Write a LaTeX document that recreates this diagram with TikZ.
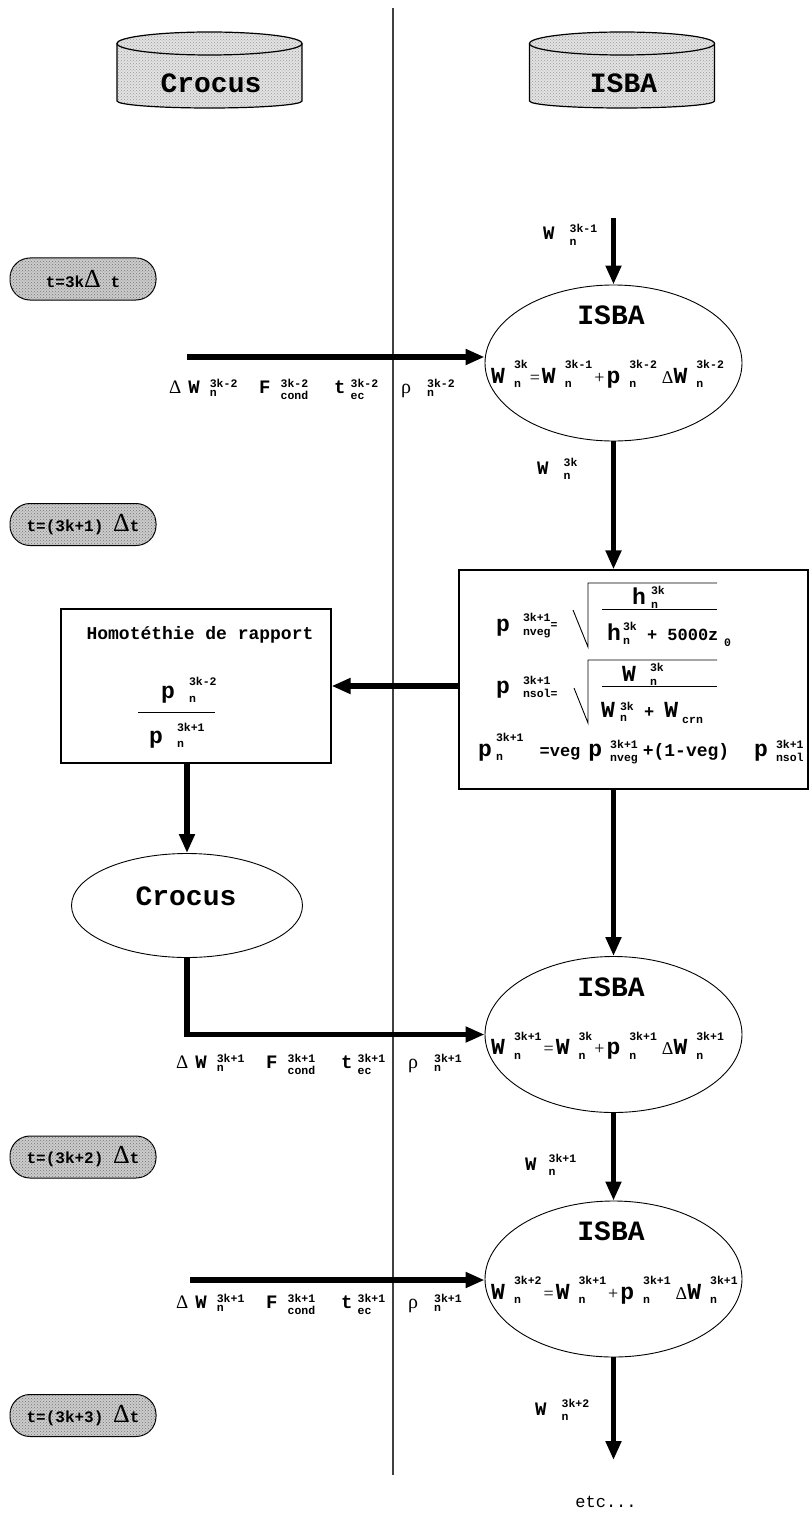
\documentclass[tikz,border=0pt]{standalone}
\usepackage{fontspec}
\setmainfont{Liberation Mono}
\newfontfamily\symf{Liberation Serif}
\usetikzlibrary{shapes, positioning, arrows.meta, patterns}

\newlength{\ixgap}\setlength{\ixgap}{9pt}
\newcommand{\subdn}{-0.2em}
\newcommand{\supf}{\fontsize{11.5}{12}\selectfont\bfseries}
\newcommand{\bigf}{\fontsize{23}{25}\selectfont\bfseries}
\newcommand{\labf}{\fontsize{19}{21}\selectfont\bfseries}
\newcommand{\ttlf}{\fontsize{28}{30}\selectfont\bfseries}
\newcommand{\gr}[2][18]{{\symf\mdseries\fontsize{#1}{#1}\selectfont #2}}
\newcommand{\opf}[1]{\hspace{2pt}\gr{#1}\hspace{2pt}}
\newcommand{\dlt}{\gr[26]{Δ}}
% letter with an upper and a lower index on its right
\newcommand{\ix}[4][0.62em]{#2\hspace{\ixgap}\rlap{\raisebox{\subdn}{\supf #4}}\raisebox{#1}{\supf #3}}

\begin{document}
\begin{tikzpicture}[x=1pt, y=-1pt,
  flow/.style={line width=5.5pt, -{Triangle[length=19pt, width=15pt]}},
  thinl/.style={line width=0.9pt},
  boxl/.style={draw, line width=1.2pt},
  pill/.style={draw, line width=1pt, rounded corners=20pt, minimum width=146pt, minimum height=42pt,
    fill=gray!40, postaction={pattern=crosshatch dots, pattern color=black!55}},
  dbfill/.style={fill=gray!22, postaction={pattern=crosshatch dots, pattern color=gray!80}},
  eq/.style={inner sep=0pt, anchor=base west, font=\bigf},
  lab/.style={inner sep=0pt, anchor=base west, font={\labf\setlength{\ixgap}{10pt}}},
  wlab/.style={inner sep=0pt, anchor=base west, font={\labf\setlength{\ixgap}{15pt}\def\subdn{-0.3em}}},
  ttl/.style={inner sep=0pt, anchor=base, font=\ttlf}]

\useasboundingbox (0,0) rectangle (809,1514);

% separator
\coordinate (sepT) at (393,8);
\coordinate (sepB) at (393,1475);
\draw[line width=1.1pt, black!75] (sepT) -- (sepB);

% data bases
\foreach \cx/\nm/\tx in {209.5/dbC/Crocus, 622/dbI/ISBA}{
  \path[dbfill] (\cx-92.5,43.5) -- (\cx-92.5,101) arc[start angle=180, end angle=360, x radius=92.5pt, y radius=7pt]
     -- (\cx+92.5,43.5) arc[start angle=0, end angle=180, x radius=92.5pt, y radius=11.5pt] -- cycle;
  \draw[line width=1.2pt] (\cx-92.5,43.5) -- (\cx-92.5,101) arc[start angle=180, end angle=360, x radius=92.5pt, y radius=7pt] -- (\cx+92.5,43.5);
  \draw[line width=1.2pt] (\cx,43.5) ellipse[x radius=92.5pt, y radius=11.5pt];
  \node[ttl] (\nm) at (\cx+1.5,92.5) {\tx};
}

% time steps
\foreach \nm/\yy/\tx in {tA/279/{t=3k\dlt\ t}, tB/524.5/{t=(3k+1) \dlt t}, tC/1157/{t=(3k+2) \dlt t}, tD/1415.5/{t=(3k+3) \dlt t}}
  \node[pill, font=\fontsize{16}{18}\selectfont\bfseries] (\nm) at (83,\yy) {\tx};

% ISBA steps
\foreach \nm/\yy/\a/\b/\c in {isbaA/363/3k/3k-1/3k-2, isbaB/1034.5/3k+1/3k/3k+1, isbaC/1279/3k+2/3k+1/3k+1}{
  \node[draw, ellipse, thinl, minimum width=257pt, minimum height=156pt, inner sep=0pt] (\nm) at (613.5,\yy) {};
  \node[ttl] (\nm-t) at (611,\yy-38.5) {ISBA};
  \node[eq] (\nm-f) at (491,\yy+20) {\ix{W}{\a}{n}\opf{=}\ix{W}{\b}{n}\opf{+}\ix{p}{\c}{n}\hspace{5pt}\gr{Δ}\ix{W}{\c}{n}};
}

% fluxes from Crocus
\foreach \r/\dx/\yb/\s in {a/0/393/3k-2, b/7/1068/3k+1, c/7/1308/3k+1}{
  \node[lab] (dw\r) at (169+\dx,\yb) {\gr[19]{Δ}\hspace{7pt}\ix[0.3em]{W}{\s}{n}};
  \node[lab] (fc\r) at (259+\dx,\yb) {\def\subdn{-0.35em}\ix[0.3em]{F}{\s}{cond}};
  \node[lab] (te\r) at (334+\dx,\yb) {\def\subdn{-0.35em}\setlength{\ixgap}{5pt}\ix[0.3em]{t}{\s}{ec}};
  \node[lab] (rh\r) at (401+\dx,\yb) {\gr[20]{ρ}\hspace{6pt}\ix[0.3em]{}{\s}{n}};
}

% ratio box
\node[boxl, minimum width=349pt, minimum height=219pt] (pbox) at (633.5,679.5) {};
\node[eq] (pv) at (496,631) {\setlength{\ixgap}{13pt}\ix[0.4em]{p}{3k+1}{nveg}\raisebox{3pt}{\supf=}};
\draw[thinl] (573,610) -- (588,647) -- (588,583) -- (717,583);
\node[eq] (hn) at (632,604) {\setlength{\ixgap}{5pt}\ix[0.4em]{h}{3k}{n}};
\draw[thinl] (602,609) -- (717,609);
\node[eq] (hd) at (607,640) {\setlength{\ixgap}{2pt}\ix[0.4em]{h}{3k}{n}{\fontsize{17}{18}\selectfont\ + 5000z}};
\node[eq, font=\supf] (z0) at (724,646) {0};
\node[eq] (ps) at (496,693) {\setlength{\ixgap}{13pt}\ix[0.35em]{p}{3k+1}{nsol}\raisebox{\subdn}{\supf=}};
\draw[thinl] (574,688) -- (588,723) -- (588,660) -- (717,660);
\node[eq] (wn) at (622,681) {\setlength{\ixgap}{14pt}\ix[0.4em]{W}{3k}{n}};
\draw[thinl] (602,686) -- (717,686);
\node[eq] (wd) at (601,717) {\setlength{\ixgap}{5pt}\ix[0.3em]{W}{3k}{n}{\fontsize{17}{18}\selectfont\ +\ }W\hspace{4pt}\raisebox{-0.3em}{\supf crn}};
\node[eq] (pm) at (478,756) {\setlength{\ixgap}{4pt}\ix{p}{3k+1}{n}\hspace{16pt}{\fontsize{17}{18}\selectfont =veg}\hspace{8pt}%
  \setlength{\ixgap}{8pt}\def\subdn{-0.25em}\ix[0.33em]{p}{3k+1}{nveg}\hspace{5pt}{\fontsize{18}{18}\selectfont +(1-veg)}\hspace{25pt}\ix[0.33em]{p}{3k+1}{nsol}};

% homothety box
\node[boxl, minimum width=270pt, minimum height=154pt] (hbox) at (196,686) {};
\node[inner sep=0pt, anchor=base, font=\fontsize{18}{20}\selectfont\bfseries] (ht) at (200,639) {Homotéthie de rapport};
\node[eq] (hp1) at (161,698) {\setlength{\ixgap}{14pt}\ix[0.55em]{p}{3k-2}{n}};
\draw[thinl] (138,712) -- (215,712);
\node[eq] (hp2) at (149,743) {\setlength{\ixgap}{14pt}\ix[0.5em]{p}{3k+1}{n}};

% Crocus step
\node[draw, ellipse, thinl, minimum width=231pt, minimum height=104pt] (crocus) at (187,905.5) {};
\node[ttl] (crocus-t) at (186,905) {Crocus};

% connectors
\coordinate (topin) at (613.5,218);
\coordinate (inA) at (187,357);
\coordinate (inC) at (190,1280);
\coordinate (outC) at (613.5,1460);
\draw[flow] (topin) -- (isbaA.north);
\draw[flow] (inA) -- (inA -| isbaA.west);
\draw[flow] (isbaA.south) -- (isbaA.south |- pbox.north);
\draw[flow] (hbox.east -| pbox.west) -- (hbox.east);
\draw[flow] (hbox.south -| crocus.north) -- (crocus.north);
\draw[flow] (crocus.south) |- (isbaB.west);
\draw[flow] (pbox.south -| isbaB.north) -- (isbaB.north);
\draw[flow] (isbaB.south) -- (isbaC.north);
\draw[flow] (inC) -- (inC -| isbaC.west);
\draw[flow] (isbaC.south) -- (outC);

\node[wlab] (wa) at (543,240) {\ix[0.4em]{W}{3k-1}{n}};
\node[wlab] (wb) at (537,474) {\ix[0.4em]{W}{3k}{n}};
\node[wlab] (wc) at (525,1170) {\setlength{\ixgap}{12pt}\ix[0.4em]{W}{3k+1}{n}};
\node[wlab] (wd) at (535,1415) {\ix[0.37em]{W}{3k+2}{n}};
\node[inner sep=0pt, anchor=base, font=\fontsize{17}{18}\selectfont] (etc) at (606,1507) {etc...};
\end{tikzpicture}
\end{document}
